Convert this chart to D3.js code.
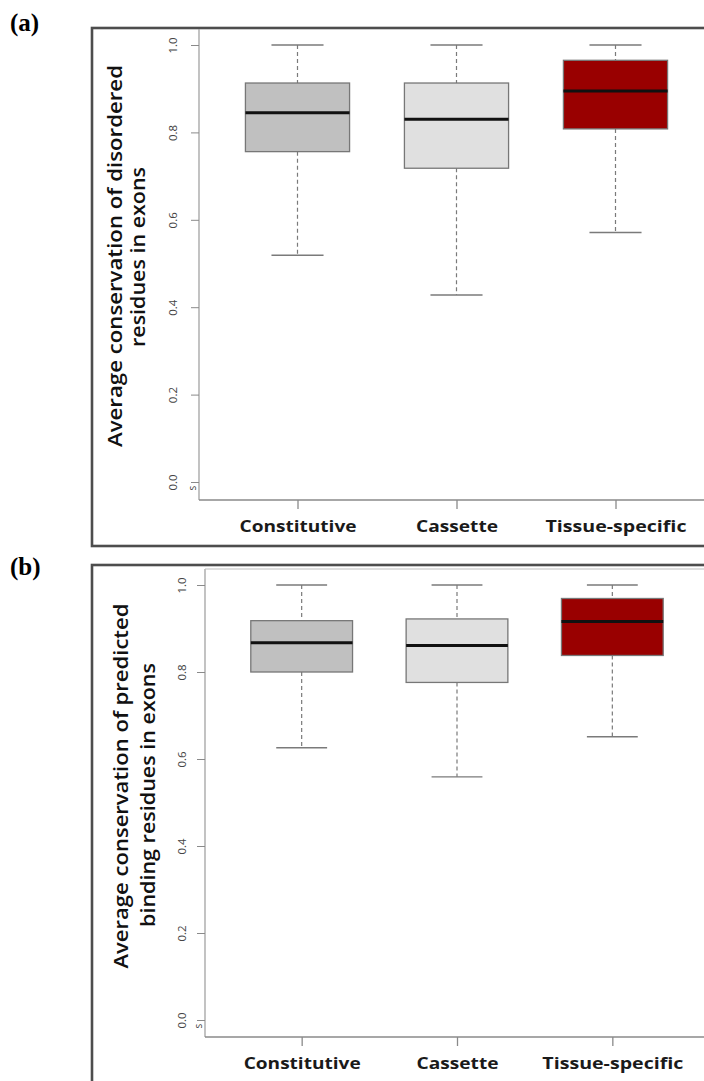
<!DOCTYPE html>
<html>
<head>
<meta charset="utf-8">
<script src="https://cdn.jsdelivr.net/npm/d3@7"></script>
<style>
  html, body { margin:0; padding:0; background:#fff; }
  svg { display:block; }
  .tick text { font-family: "Open Sans", sans-serif; }
</style>
</head>
<body>
<svg id="chart" width="704" height="1081"></svg>
<script>
// --- Data ---
const categories = ["Constitutive", "Cassette", "Tissue-specific"];
const boxFill    = ["#c0c0c0", "#e0e0e0", "#990000"];
const yTicks     = [0, 0.2, 0.4, 0.6, 0.8, 1.0];
const yTickLabels = ["0.0", "0.2", "0.4", "0.6", "0.8", "1.0"];

// panel (a): disordered residues
const aLow  = [0.519, 0.428, 0.571];
const aQ1   = [0.756, 0.718, 0.808];
const aMed  = [0.845, 0.830, 0.895];
const aQ3   = [0.913, 0.913, 0.965];
const aHigh = [1.000, 1.000, 1.000];

// panel (b): predicted binding residues
const bLow  = [0.626, 0.559, 0.651];
const bQ1   = [0.800, 0.776, 0.838];
const bMed  = [0.867, 0.861, 0.916];
const bQ3   = [0.918, 0.922, 0.969];
const bHigh = [1.000, 1.000, 1.000];

const svg = d3.select("#chart");

// one panel = frame + axes + three boxes
function drawPanel(p){
  const g = svg.append("g");

  // outer frame (right edge runs off the page)
  g.append("rect")
    .attr("x", p.frame.x).attr("y", p.frame.y)
    .attr("width", 760 - p.frame.x).attr("height", p.frame.h)
    .attr("fill", "none").attr("stroke", "#4d4d4d").attr("stroke-width", 2.6);

  // panel letter
  g.append("text")
    .attr("x", 10).attr("y", p.letterY)
    .attr("font-family", "'Liberation Serif', 'Times New Roman', serif")
    .attr("font-weight", "bold").attr("font-size", 25)
    .text(p.letter);

  const x = d3.scalePoint().domain(categories).range(p.xRange).padding(0.5);
  const y = d3.scaleLinear().domain([0, 1]).range(p.yRange);
  const step = x.step();
  const bw = step * 0.655;
  const cw = bw * 0.5;

  // plot lines: left + bottom (and faint top line in b)
  g.append("line")
    .attr("x1", p.plotLeft).attr("x2", p.plotLeft)
    .attr("y1", p.plotTop).attr("y2", p.axisY)
    .attr("stroke", "#9a9a9a").attr("stroke-width", 1.2);
  g.append("line")
    .attr("x1", p.plotLeft).attr("x2", 704)
    .attr("y1", p.axisY).attr("y2", p.axisY)
    .attr("stroke", "#8a8a8a").attr("stroke-width", 1.4);
  if (p.topLine) {
    g.append("line")
      .attr("x1", p.plotLeft).attr("x2", 704)
      .attr("y1", p.plotTop).attr("y2", p.plotTop)
      .attr("stroke", "#bdbdbd").attr("stroke-width", 1);
  }

  // y axis
  const gy = g.append("g").attr("transform", `translate(${p.plotLeft},0)`)
    .call(d3.axisLeft(y).tickValues(yTicks).tickSize(8).tickPadding(0)
      .tickFormat((d, i) => yTickLabels[i]));
  gy.select(".domain").remove();
  gy.selectAll(".tick line").attr("stroke", "#8a8a8a");
  gy.selectAll(".tick text")
    .attr("fill", "#444").attr("font-size", 11.5)
    .attr("text-anchor", "middle").attr("dy", null)
    .attr("transform", `translate(${p.tickLabelX - p.plotLeft},0) rotate(-90)`)
    .attr("x", 0).attr("y", 0).attr("dominant-baseline", "central");

  // stray "s" near the origin
  g.append("text")
    .attr("transform", `translate(${p.plotLeft - 7},${y(0) + 6}) rotate(-90)`)
    .attr("text-anchor", "middle").attr("dominant-baseline", "central")
    .attr("font-family", "'Open Sans', sans-serif").attr("font-size", 10).attr("fill", "#444")
    .text("s");

  // x axis ticks + labels
  const gx = g.append("g").attr("transform", `translate(0,${p.axisY})`)
    .call(d3.axisBottom(x).tickSize(9).tickPadding(6));
  gx.select(".domain").remove();
  gx.selectAll(".tick line").attr("stroke", "#8a8a8a").attr("stroke-width", 1.3);
  gx.selectAll(".tick text")
    .attr("fill", "#1a1a1a").attr("font-size", 16.5).attr("font-weight", 700)
    .attr("font-family", "'Open Sans', sans-serif")
    .attr("dy", null).attr("y", p.xLabelY - p.axisY).attr("dominant-baseline", "central")
    .attr("textLength", (d, i) => p.xLabelLen[i]).attr("lengthAdjust", "spacingAndGlyphs");

  // y title, two lines
  p.title.forEach((t, i) => {
    g.append("text")
      .attr("transform", `translate(${p.titleX[i]},${p.titleCY[i]}) rotate(-90)`)
      .attr("text-anchor", "middle").attr("dominant-baseline", "central")
      .attr("font-family", "'Open Sans', sans-serif").attr("font-weight", 600)
      .attr("font-size", p.titleSize).attr("fill", "#111")
      .attr("textLength", p.titleLen[i]).attr("lengthAdjust", "spacingAndGlyphs")
      .text(t);
  });

  // boxes
  const rows = categories.map((c, i) => ({
    c, fill: boxFill[i], lo: p.lo[i], q1: p.q1[i], med: p.med[i], q3: p.q3[i], hi: p.hi[i]
  }));
  const bx = g.selectAll(".box").data(rows).enter().append("g").attr("class", "box");

  // whiskers (dashed)
  bx.append("line")
    .attr("x1", d => x(d.c)).attr("x2", d => x(d.c))
    .attr("y1", d => y(d.hi)).attr("y2", d => y(d.q3))
    .attr("stroke", "#7a7a7a").attr("stroke-width", 1.2).attr("stroke-dasharray", "4,3");
  bx.append("line")
    .attr("x1", d => x(d.c)).attr("x2", d => x(d.c))
    .attr("y1", d => y(d.q1)).attr("y2", d => y(d.lo))
    .attr("stroke", "#7a7a7a").attr("stroke-width", 1.2).attr("stroke-dasharray", "4,3");
  // caps
  bx.append("line")
    .attr("x1", d => x(d.c) - cw / 2).attr("x2", d => x(d.c) + cw / 2)
    .attr("y1", d => y(d.hi)).attr("y2", d => y(d.hi))
    .attr("stroke", "#7a7a7a").attr("stroke-width", 1.4);
  bx.append("line")
    .attr("x1", d => x(d.c) - cw / 2).attr("x2", d => x(d.c) + cw / 2)
    .attr("y1", d => y(d.lo)).attr("y2", d => y(d.lo))
    .attr("stroke", "#7a7a7a").attr("stroke-width", 1.4);
  // box
  bx.append("rect")
    .attr("x", d => x(d.c) - bw / 2).attr("width", bw)
    .attr("y", d => y(d.q3)).attr("height", d => y(d.q1) - y(d.q3))
    .attr("fill", d => d.fill).attr("stroke", "#777").attr("stroke-width", 1.3);
  // median
  bx.append("line")
    .attr("x1", d => x(d.c) - bw / 2).attr("x2", d => x(d.c) + bw / 2)
    .attr("y1", d => y(d.med)).attr("y2", d => y(d.med))
    .attr("stroke", "#111").attr("stroke-width", 3);
}

drawPanel({
  letter: "(a)", letterY: 31,
  frame: { x: 92, y: 28, h: 518 },
  xRange: [218, 695], yRange: [482, 45],
  plotLeft: 199, plotTop: 29, axisY: 500, topLine: false,
  tickLabelX: 172, xLabelY: 525, xLabelLen: [117, 82, 141],
  title: ["Average conservation of disordered", "residues in exons"],
  titleX: [115, 138], titleCY: [256, 257], titleLen: [382, 180], titleSize: 19,
  lo: aLow, q1: aQ1, med: aMed, q3: aQ3, hi: aHigh
});

drawPanel({
  letter: "(b)", letterY: 575,
  frame: { x: 92, y: 565, h: 560 },
  xRange: [224, 690], yRange: [1020, 585],
  plotLeft: 205, plotTop: 569, axisY: 1037, topLine: true,
  tickLabelX: 181, xLabelY: 1062, xLabelLen: [117, 82, 141],
  title: ["Average conservation of predicted", "binding residues in exons"],
  titleX: [120, 147], titleCY: [786, 795], titleLen: [365, 264], titleSize: 20,
  lo: bLow, q1: bQ1, med: bMed, q3: bQ3, hi: bHigh
});
</script>
</body>
</html>
